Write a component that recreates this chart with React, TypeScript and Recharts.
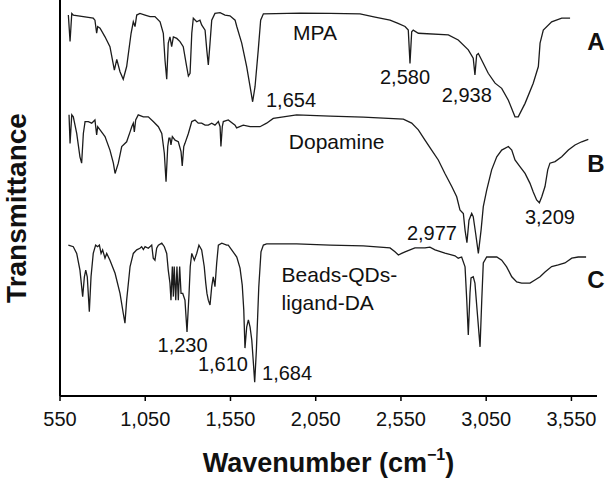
import { LineChart, Line, XAxis, YAxis, ReferenceDot, Label } from 'recharts'

const FONT = '"Liberation Sans", Arial, Helvetica, sans-serif'
const INK = '#111'

// wavenumber (cm-1), transmittance (arbitrary units, spectra offset)
const mpa: [number, number][] = [
  [599, 96.2], [609, 89.5], [619, 96.6], [628, 96.2], [716, 95.6], [745, 95.4], [755, 94.9], [765, 91.6],
  [771, 93.3], [785, 92.9], [814, 90.7], [843, 88.2], [869, 82.3], [883, 85.0], [902, 81.9], [921, 80.0],
  [941, 83.2], [967, 91.6], [980, 94.5], [990, 93.3], [1000, 96.2], [1019, 96.6], [1049, 96.2], [1078, 95.8],
  [1107, 95.8], [1137, 94.5], [1156, 91.6], [1166, 84.8], [1176, 80.0], [1185, 89.1], [1195, 90.7], [1205, 88.2],
  [1215, 90.7], [1235, 90.3], [1254, 89.5], [1273, 88.2], [1293, 83.2], [1303, 80.8], [1313, 81.5], [1323, 91.6],
  [1332, 95.4], [1352, 94.5], [1371, 94.9], [1381, 93.7], [1401, 92.4], [1411, 87.4], [1420, 83.6], [1430, 89.1],
  [1440, 94.9], [1459, 96.6], [1489, 96.8], [1518, 96.2], [1547, 96.0], [1577, 94.9], [1587, 93.3], [1616, 89.1],
  [1645, 83.2], [1665, 78.1], [1680, 74.3], [1694, 78.1], [1713, 87.4], [1727, 94.9], [1743, 96.5], [1958, 96.7],
  [2134, 96.6], [2310, 96.5], [2398, 95.7], [2486, 94.9], [2533, 94.1], [2574, 93.3], [2593, 92.4], [2603, 84.0],
  [2613, 92.0], [2622, 92.4], [2652, 91.6], [2828, 91.2], [2886, 89.9], [2945, 87.4], [2974, 85.3], [2984, 81.1],
  [2994, 86.1], [3004, 86.5], [3024, 84.8], [3062, 81.5], [3102, 79.0], [3141, 77.7], [3180, 74.7], [3219, 70.5],
  [3238, 70.5], [3278, 73.9], [3326, 79.0], [3356, 83.2], [3366, 89.1], [3385, 92.4], [3434, 94.5], [3493, 95.4],
  [3542, 95.4],
]

const dopamine: [number, number][] = [
  [603, 71.0], [609, 63.8], [619, 71.0], [628, 70.5], [648, 66.3], [667, 60.4], [677, 58.8], [687, 66.3],
  [697, 69.3], [716, 69.3], [736, 68.9], [755, 69.7], [765, 65.9], [771, 68.0], [785, 67.2], [814, 65.5],
  [843, 62.1], [863, 58.8], [873, 56.2], [892, 58.8], [912, 63.0], [941, 64.2], [961, 66.7], [971, 68.0],
  [980, 68.9], [986, 66.7], [994, 69.7], [1009, 71.0], [1039, 70.5], [1068, 70.5], [1097, 69.3], [1127, 68.0],
  [1147, 66.3], [1162, 61.3], [1172, 54.1], [1182, 63.0], [1189, 65.1], [1195, 65.1], [1201, 63.4], [1209, 65.5],
  [1225, 64.6], [1244, 64.2], [1260, 61.7], [1267, 58.1], [1276, 63.0], [1283, 63.8], [1303, 66.3], [1323, 69.3],
  [1342, 69.7], [1361, 68.9], [1381, 68.9], [1401, 68.4], [1420, 68.4], [1440, 68.9], [1459, 68.4], [1479, 69.3],
  [1489, 68.0], [1494, 63.0], [1502, 68.0], [1508, 69.3], [1537, 69.7], [1577, 68.4], [1586, 67.7], [1625, 68.4],
  [1665, 68.0], [1723, 68.0], [1762, 68.9], [1801, 70.1], [1860, 70.5], [1938, 71.0], [2134, 70.7], [2329, 70.4],
  [2564, 69.9], [2613, 68.9], [2652, 67.2], [2691, 64.6], [2730, 62.1], [2769, 59.6], [2808, 56.2], [2848, 52.9],
  [2877, 50.3], [2896, 47.0], [2916, 46.1], [2926, 41.9], [2937, 38.7], [2949, 44.4], [2965, 46.1], [2974, 45.3],
  [2988, 41.1], [3004, 36.0], [3020, 41.9], [3033, 47.8], [3053, 52.0], [3082, 57.1], [3112, 60.4], [3141, 62.1],
  [3180, 63.0], [3200, 62.1], [3219, 59.6], [3248, 57.9], [3278, 56.2], [3307, 53.7], [3326, 51.5], [3346, 49.5],
  [3362, 48.8], [3376, 50.3], [3395, 52.9], [3411, 57.1], [3424, 58.8], [3454, 59.2], [3493, 60.4], [3532, 62.1],
  [3571, 63.4], [3610, 64.2], [3649, 64.8],
]

const beads: [number, number][] = [
  [599, 38.1], [628, 37.7], [648, 36.0], [667, 31.8], [683, 25.1], [693, 30.1], [701, 31.8], [710, 30.1],
  [722, 21.3], [732, 30.1], [745, 36.0], [759, 38.1], [771, 37.7], [781, 38.1], [791, 36.0], [800, 36.9],
  [814, 34.8], [824, 36.0], [843, 34.3], [873, 31.0], [902, 25.9], [921, 20.9], [931, 18.4], [941, 24.2],
  [961, 32.7], [980, 36.0], [1000, 36.9], [1019, 37.3], [1029, 37.7], [1039, 37.0], [1049, 37.7], [1068, 37.3],
  [1088, 38.1], [1097, 34.8], [1107, 34.3], [1117, 37.3], [1127, 38.1], [1147, 38.6], [1162, 37.7], [1176, 36.0],
  [1185, 31.8], [1195, 28.5], [1201, 24.2], [1209, 32.7], [1215, 25.1], [1220, 32.7], [1229, 24.2], [1236, 32.7],
  [1244, 24.2], [1252, 32.7], [1260, 25.9], [1270, 25.9], [1283, 24.2], [1295, 16.2], [1307, 25.9], [1314, 32.7],
  [1323, 36.0], [1338, 34.3], [1352, 36.0], [1365, 38.1], [1381, 36.9], [1396, 32.7], [1405, 28.5], [1412, 25.9],
  [1420, 24.2], [1430, 23.0], [1440, 27.6], [1449, 30.1], [1459, 27.6], [1469, 33.5], [1479, 38.1], [1499, 38.6],
  [1528, 38.1], [1537, 38.1], [1557, 36.9], [1587, 35.1], [1606, 32.3], [1619, 28.0], [1628, 21.7], [1635, 12.1],
  [1645, 17.4], [1655, 19.2], [1665, 17.4], [1675, 14.1], [1684, 8.6], [1692, 3.5], [1702, 11.6], [1716, 27.5],
  [1729, 36.4], [1743, 38.1], [1762, 38.4], [1938, 38.4], [2134, 38.1], [2329, 37.9], [2486, 37.4], [2515, 36.4],
  [2535, 35.6], [2554, 36.0], [2574, 36.4], [2603, 36.9], [2632, 37.4], [2691, 37.4], [2720, 37.6], [2750, 36.9],
  [2808, 36.1], [2867, 35.4], [2886, 34.8], [2906, 35.1], [2926, 32.6], [2936, 24.2], [2945, 15.4], [2955, 26.0],
  [2961, 29.8], [2974, 30.1], [2984, 28.5], [3000, 19.9], [3014, 12.4], [3024, 24.2], [3033, 33.6], [3053, 35.1],
  [3082, 35.1], [3112, 35.1], [3141, 34.3], [3170, 32.6], [3200, 30.1], [3229, 28.8], [3258, 28.5], [3307, 28.5],
  [3336, 29.3], [3366, 30.1], [3395, 31.3], [3434, 32.7], [3473, 33.1], [3512, 33.6], [3552, 34.8], [3590, 35.1],
  [3636, 35.1],
]

const xTicks = [550, 1050, 1550, 2050, 2550, 3050, 3550]

// text, wavenumber, transmittance, anchor, size, bold
const notes: [string, number, number, string, number, boolean][] = [
  ['MPA', 2046, 91.7, 'middle', 21, false],
  ['Dopamine', 2173, 64.2, 'middle', 21, false],
  ['Beads-QDs-', 1850, 30.6, 'start', 21, false],
  ['ligand-DA', 1850, 23.7, 'start', 21, false],
  ['1,654', 1905, 74.7, 'middle', 20, false],
  ['2,580', 2574, 80.6, 'middle', 20, false],
  ['2,938', 2936, 76.0, 'middle', 20, false],
  ['2,977', 2732, 41.2, 'middle', 20, false],
  ['3,209', 3424, 45.2, 'middle', 20, false],
  ['1,230', 1269, 12.9, 'middle', 20, false],
  ['1,610', 1506, 8.1, 'middle', 20, false],
  ['1,684', 1882, 5.8, 'middle', 20, false],
  ['A', 3694, 89.4, 'middle', 24, true],
  ['B', 3694, 58.8, 'middle', 24, true],
  ['C', 3694, 29.3, 'middle', 24, true],
]

const toRows = (pts: [number, number][]) => pts.map(([w, t]) => ({ w, t }))

const noteContent = (text: string, anchor: string, size: number, bold: boolean) => (props: any) => {
  const vb = props.viewBox || {}
  return (
    <text
      x={vb.x}
      y={vb.y}
      textAnchor={anchor as any}
      dominantBaseline="central"
      fontSize={size}
      fontWeight={bold ? 700 : 400}
      fontFamily={FONT}
      fill={INK}
    >
      {text}
    </text>
  )
}

export default function App() {
  return (
    <div style={{ position: 'absolute', left: 0, top: 0 }}>
      <LineChart width={606} height={480} margin={{ top: 0, right: 9, bottom: 0, left: 0 }}>
        <XAxis
          dataKey="w"
          type="number"
          domain={[550, 3700]}
          allowDataOverflow
          ticks={xTicks}
          tickFormatter={(v: number) => v.toLocaleString('en-US')}
          height={84}
          tickSize={5}
          tickMargin={11}
          tick={{ fill: INK, fontSize: 20, fontFamily: FONT }}
          axisLine={{ stroke: '#000', strokeWidth: 2 }}
          tickLine={{ stroke: '#000', strokeWidth: 1.5 }}
        >
          <Label
            content={(p: any) => (
              <text
                x={p.viewBox.x + p.viewBox.width / 2}
                y={p.viewBox.y + 67}
                textAnchor="middle"
                dominantBaseline="central"
                fontSize={27}
                fontWeight={700}
                fontFamily={FONT}
                fill={INK}
              >
                Wavenumber (cm<tspan baselineShift="super" fontSize={16}>−1</tspan>)
              </text>
            )}
          />
        </XAxis>
        <YAxis
          type="number"
          domain={[0, 100]}
          width={60}
          tick={false}
          tickLine={false}
          axisLine={{ stroke: '#000', strokeWidth: 2 }}
        >
          <Label
            content={() => (
              <text
                x={16}
                y={208}
                transform="rotate(-90 16 208)"
                textAnchor="middle"
                dominantBaseline="central"
                fontSize={28}
                fontWeight={700}
                fontFamily={FONT}
                fill={INK}
              >
                Transmittance
              </text>
            )}
          />
        </YAxis>
        {[mpa, dopamine, beads].map((s, i) => (
          <Line
            key={i}
            data={toRows(s)}
            dataKey="t"
            type="linear"
            stroke="#1c1c1c"
            strokeWidth={1.3}
            dot={false}
            activeDot={false}
            isAnimationActive={false}
          />
        ))}
        {notes.map(([text, w, t, anchor, size, bold], i) => (
          <ReferenceDot
            key={'n' + i}
            x={w}
            y={t}
            r={0}
            fill="none"
            stroke="none"
            ifOverflow="visible"
            label={<Label content={noteContent(text, anchor, size, bold)} />}
          />
        ))}
      </LineChart>
    </div>
  )
}
